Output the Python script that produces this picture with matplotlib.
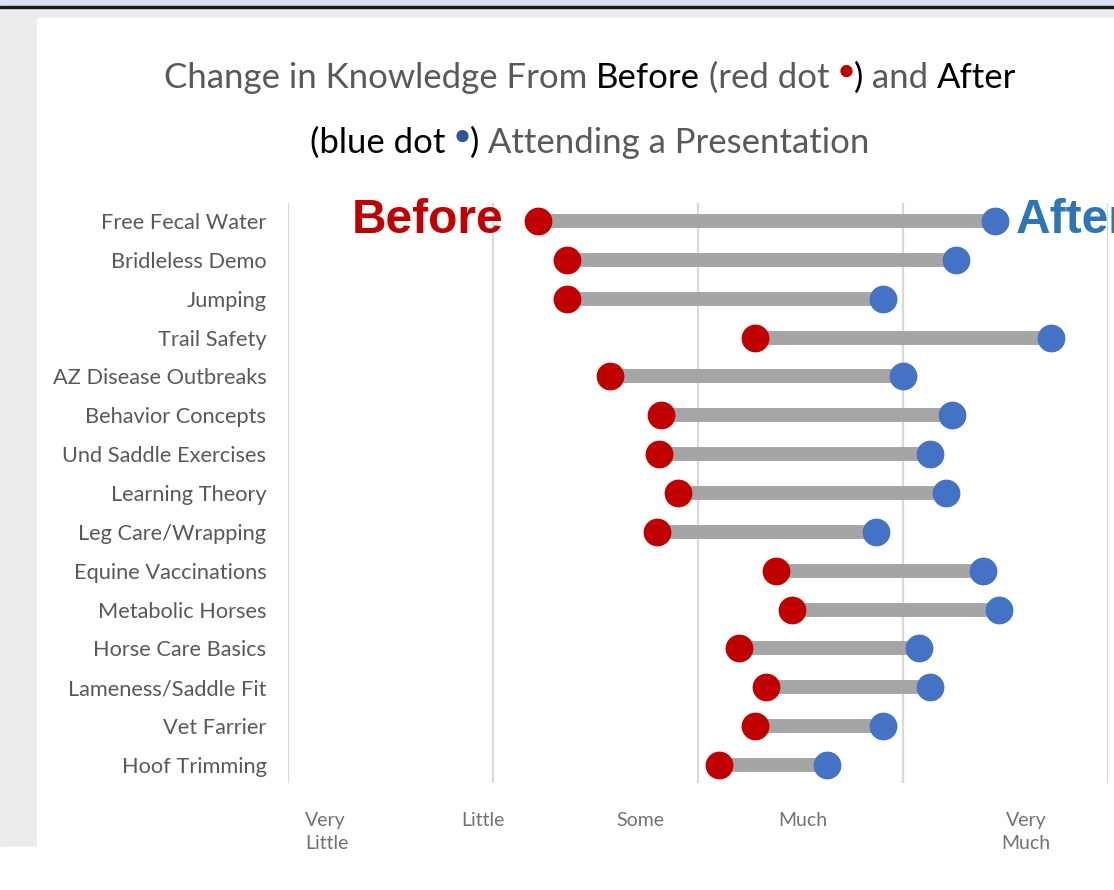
import matplotlib
matplotlib.use("Agg")
import matplotlib.pyplot as plt
from matplotlib.patches import Rectangle

# Data (1 = Very Little ... 5 = Very Much)
topics = ["Free Fecal Water", "Bridleless Demo", "Jumping", "Trail Safety",
          "AZ Disease Outbreaks", "Behavior Concepts", "Und Saddle Exercises",
          "Learning Theory", "Leg Care/Wrapping", "Equine Vaccinations",
          "Metabolic Horses", "Horse Care Basics", "Lameness/Saddle Fit",
          "Vet Farrier", "Hoof Trimming"]
before = [2.22, 2.36, 2.36, 3.28, 2.57, 2.82, 2.81, 2.90, 2.80, 3.38,
          3.46, 3.20, 3.33, 3.28, 3.10]
after = [4.45, 4.26, 3.90, 4.72, 4.00, 4.24, 4.13, 4.21, 3.87, 4.39,
         4.47, 4.08, 4.13, 3.90, 3.63]
scale_labels = ["Very\nLittle", "Little", "Some", "Much", "Very\nMuch"]
scale_label_pos = [1.083, 1.95, 2.72, 3.51, 4.60]

W, H = 1114, 890
RED = "#c00000"
BLUE = "#4472c4"
GRAY_TXT = "#595959"
FONT = "Lato"

fig = plt.figure(figsize=(W / 100, H / 100), dpi=100, facecolor="#ececec")


def px_rect(x0, y0, x1, y1, color):
    # rectangle in pixel coords measured from top-left
    fig.patches.append(Rectangle((x0 / W, 1 - y1 / H), (x1 - x0) / W, (y1 - y0) / H,
                                 transform=fig.transFigure, color=color, zorder=-10))


px_rect(0, 0, W, 6, "#dae3f3")
px_rect(0, 6, W, 8, "#1a1a1a")
px_rect(37, 18, W, H, "white")
px_rect(0, 847, 37, H, "white")

ax = fig.add_axes([288 / W, 1 - 783 / H, (1108 - 288) / W, (783 - 203) / H])
ax.set_facecolor("none")

ys = list(range(len(topics)))
ax.hlines(ys, before, after, color="#a5a5a5", lw=10, zorder=2)
ax.plot(before, ys, "o", color=RED, ms=19, zorder=3)
ax.plot(after, ys, "o", color=BLUE, ms=19, zorder=3)

ax.set_xlim(1, 5)
ax.set_ylim(len(topics) - 0.54, -0.46)
for v in [1, 2, 3, 4, 5]:
    ax.axvline(v, color="#d9d9d9", lw=1.6, zorder=1)
for s in ax.spines.values():
    s.set_visible(False)
ax.set_xticks([])
ax.set_yticks(ys)
ax.set_yticklabels(topics, fontsize=15.7, color=GRAY_TXT, family=FONT)
ax.tick_params(axis="y", length=0, pad=15.5)

for i, (lab, xp) in enumerate(zip(scale_labels, scale_label_pos)):
    ha = "left" if i == 0 else "center"
    ax.text(xp, -0.05, lab, transform=ax.get_xaxis_transform(), ha=ha,
            va="top", fontsize=14, color="#757171", family=FONT, linespacing=1.45,
            multialignment=ha)

ax.text(before[0] - 0.17, 0, "Before", ha="right", va="center", fontsize=34.5,
        fontweight="bold", color=RED, family="Liberation Sans", clip_on=False)
ax.text(after[0] + 0.1, 0, "After", ha="left", va="center", fontsize=34.5,
        fontweight="bold", color="#2e75b6", family="Liberation Sans", clip_on=False)

# Title built from coloured pieces
renderer = fig.canvas.get_renderer()


def title_line(pieces, y_px, cx_px):
    texts = []
    for s, col, size, dy in pieces:
        t = fig.text(0, 1 - (y_px - dy) / H, s, color=col, fontsize=size,
                     family=FONT, va="center", ha="left")
        texts.append(t)
    widths = [t.get_window_extent(renderer).width for t in texts]
    x = cx_px - sum(widths) / 2
    for t, w in zip(texts, widths):
        t.set_x(x / W)
        x += w


TS = 25
title_line([("Change in Knowledge From ", GRAY_TXT, TS, 0),
            ("Before", "black", TS, 0),
            (" (red dot ", GRAY_TXT, TS, 0),
            ("\u25cf", RED, 18, 7),
            (")", "black", TS, 0),
            (" and ", GRAY_TXT, TS, 0),
            ("After", "black", TS, 0)], 78, 590)
title_line([("(blue dot ", "black", TS, 0),
            ("\u25cf", "#2f5597", 18, 7),
            (")", "black", TS, 0),
            (" Attending a Presentation", GRAY_TXT, TS, 0)], 143, 590)

fig.savefig("out.png", dpi=100, facecolor=fig.get_facecolor())
